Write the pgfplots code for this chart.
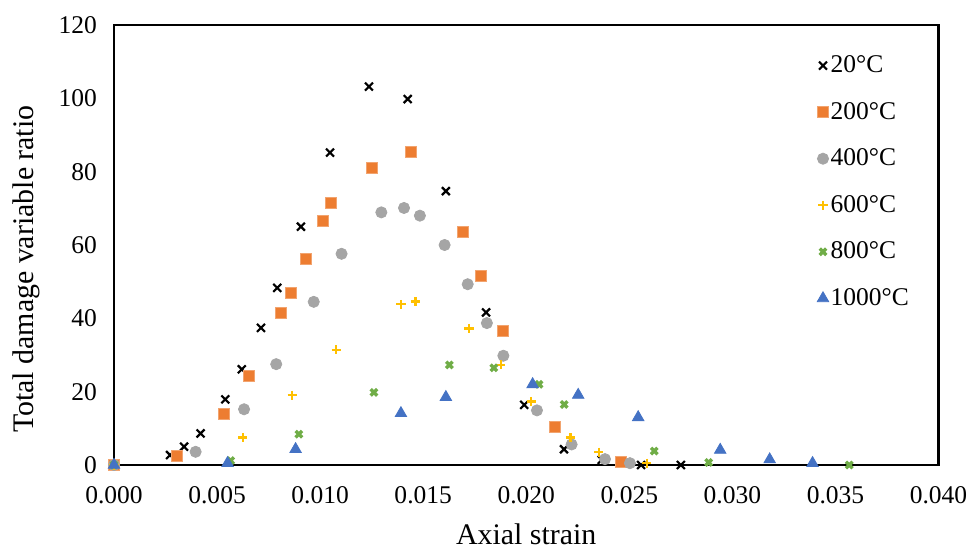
\documentclass[border=0pt]{standalone}
\usepackage{fontspec}
\setmainfont{Liberation Serif}
\usepackage{pgfplots}
\pgfplotsset{compat=1.18}
\definecolor{cOrange}{HTML}{ED7D31}
\definecolor{cGrey}{HTML}{A5A5A5}
\definecolor{cYellow}{HTML}{FFC000}
\definecolor{cGreen}{HTML}{70AD47}
\definecolor{cBlue}{HTML}{4472C4}
\newcommand{\chartfont}{\fontsize{12.8}{15}\selectfont}
\newcommand{\labelfont}{\fontsize{15}{18}\selectfont}
\begin{document}
\begin{tikzpicture}
\begin{axis}[
  at={(0,0)}, anchor=origin,
  scale only axis,
  width=412.25bp, height=220bp,
  xmin=0, xmax=0.04, ymin=0, ymax=120,
  xtick={0,0.005,0.01,0.015,0.02,0.025,0.03,0.035,0.04},
  ytick={0,20,...,120},
  scaled x ticks=false,
  x tick label style={/pgf/number format/fixed, /pgf/number format/fixed zerofill, /pgf/number format/precision=3},
  /pgf/number format/assume math mode=true,
  tick label style={font=\chartfont},
  major tick length=0pt,
  xticklabel style={yshift=-7bp},
  yticklabel style={xshift=-5bp},
  axis line style={line width=1.1bp},
  xlabel={Axial strain},
  ylabel={Total damage variable ratio},
  label style={font=\labelfont},
  xlabel style={at={(axis description cs:0.5,0)}, anchor=center, yshift=-34.5bp},
  ylabel style={at={(axis description cs:0,0.445)}, anchor=center, yshift=44bp},
  legend style={draw=none, fill=none, font=\chartfont,
    at={(axis cs:0.0341,112.3)}, anchor=north west,
    row sep=11.3bp, inner sep=0pt,
    nodes={inner sep=1bp}},
  legend cell align=left,
  legend image code/.code={\draw[#1] plot coordinates {(-6.5bp,0bp)};},
  clip=false,
]
% 20C
\addplot[only marks, mark=x, mark size=2.8bp, line width=1.1bp, black] coordinates {
(0,0) (0.00272,2.7) (0.0034,5.0) (0.0042,8.6) (0.0054,17.9) (0.0062,26.1)
(0.00713,37.4) (0.00792,48.3) (0.00907,65.0) (0.01048,85.2) (0.01237,103.2)
(0.01425,99.8) (0.0161,74.7) (0.01805,41.6) (0.0199,16.4) (0.02183,4.3)
(0.02366,1.4) (0.02557,0.0) (0.0275,0.0)};
\addlegendentry{20°C}
% 200C
\addplot[only marks, mark=square*, mark size=2.75bp, draw=cOrange!70!white, fill=cOrange, line width=0.4bp] coordinates {
(0,0) (0.00307,2.5) (0.00535,13.9) (0.00656,24.3) (0.0081,41.4) (0.00859,47.0)
(0.0093,56.3) (0.01012,66.7) (0.01051,71.6) (0.0125,81.0) (0.01441,85.4)
(0.01695,63.5) (0.0178,51.7) (0.01886,36.7) (0.0214,10.4) (0.02458,0.8)};
\addlegendentry{200°C}
% 400C
\addplot[only marks, mark=*, mark size=2.8bp, draw=cGrey, fill=cGrey] coordinates {
(0,0) (0.00396,3.6) (0.00631,15.2) (0.00787,27.5) (0.00969,44.5) (0.01104,57.6)
(0.01297,68.9) (0.01407,70.1) (0.01484,68.0) (0.01604,60.0) (0.01716,49.3)
(0.01809,38.7) (0.01889,29.8) (0.02052,14.9) (0.0222,5.6) (0.02382,1.6)
(0.02503,0.5)};
\addlegendentry{400°C}
% 600C
\addplot[only marks, mark=+, mark size=2.3bp, line width=1.1bp, cYellow] coordinates {
(0,0) (0.00624,7.5) (0.00865,19.0) (0.01078,31.4) (0.01392,43.8) (0.01463,44.6)
(0.01722,37.2) (0.01877,27.3) (0.02024,17.3) (0.02215,7.5) (0.02351,3.5)
(0.02584,0.5)};
\addlegendentry{600°C}
% 800C
\addplot[only marks, mark=x, mark size=2.3bp, line width=1.7bp, cGreen] coordinates {
(0,0) (0.00566,1.2) (0.00897,8.4) (0.01261,19.8) (0.01627,27.3) (0.01843,26.5)
(0.02062,22.0) (0.02184,16.5) (0.02621,3.8) (0.02885,0.7) (0.03567,0.0)};
\addlegendentry{800°C}
% 1000C
\addplot[only marks, mark=triangle*, mark size=3.3bp, draw=cBlue, fill=cBlue] coordinates {
(0,0) (0.00551,0.5) (0.00881,4.3) (0.01392,14.1) (0.0161,18.5) (0.02031,22.0)
(0.02252,19.1) (0.02543,13.0) (0.02941,4.1) (0.03181,1.5) (0.03389,0.5)};
\addlegendentry{1000°C}
\end{axis}
\pgfresetboundingbox
\path[use as bounding box] (-57bp,-42bp) rectangle (429.5bp,232.5bp);
\end{tikzpicture}
\end{document}
